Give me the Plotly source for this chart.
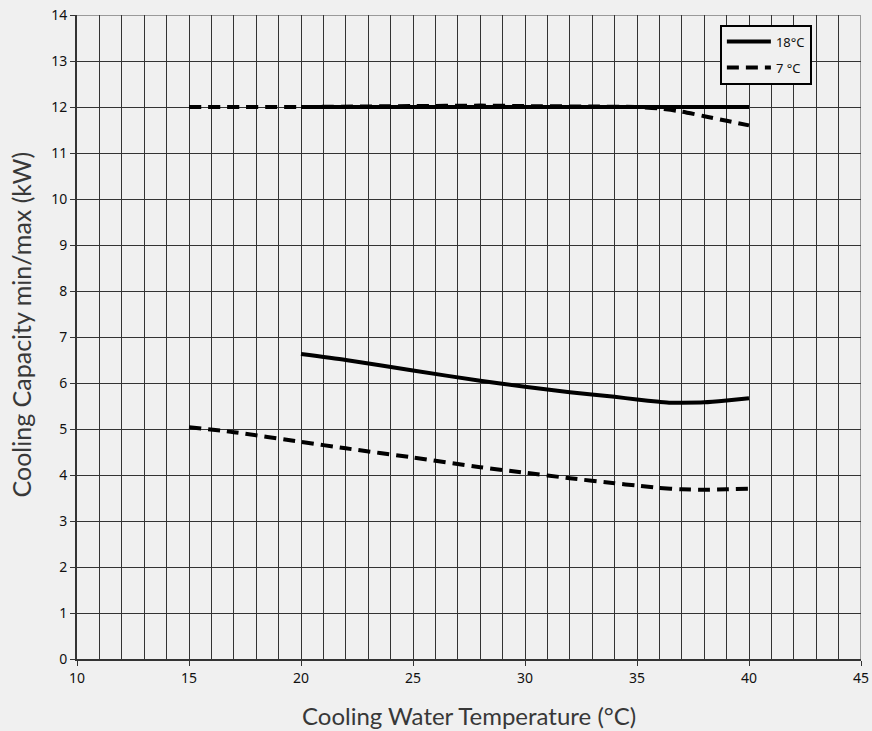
import plotly.graph_objects as go

# Data
x_18_max = [20, 25, 30, 35, 40]
y_18_max = [12.0, 12.0, 12.0, 12.0, 12.0]

x_7_max = [15, 20, 25, 28, 30, 33, 35, 36, 37, 38, 39, 40]
y_7_max = [12.0, 12.0, 12.02, 12.03, 12.02, 12.01, 12.0, 11.97, 11.9, 11.8, 11.7, 11.6]

x_18_min = [20, 22, 25, 28, 30, 32, 34, 35, 36, 36.5, 37, 38, 39, 40]
y_18_min = [6.63, 6.5, 6.27, 6.05, 5.92, 5.8, 5.7, 5.64, 5.59, 5.57, 5.57, 5.58, 5.62, 5.67]

x_7_min = [15, 17, 20, 22, 25, 28, 30, 32, 34, 35, 36, 37, 38, 39, 40]
y_7_min = [5.04, 4.93, 4.72, 4.58, 4.38, 4.17, 4.05, 3.93, 3.82, 3.77, 3.72, 3.69, 3.68, 3.69, 3.70]

x_ticks = [10, 15, 20, 25, 30, 35, 40, 45]
y_ticks = list(range(0, 15))

x_title = "Cooling Water Temperature (°C)"
y_title = "Cooling Capacity min/max (kW)"

fig = go.Figure()
line_solid = dict(color="black", width=4, shape="spline", smoothing=0.6)
line_dash = dict(color="black", width=4, dash="12px,7px", shape="spline", smoothing=0.6)

fig.add_trace(go.Scatter(x=x_18_max, y=y_18_max, mode="lines", name="18°C",
                         line=line_solid, legendgroup="18"))
fig.add_trace(go.Scatter(x=x_7_max, y=y_7_max, mode="lines", name="7 °C",
                         line=line_dash, legendgroup="7"))
fig.add_trace(go.Scatter(x=x_18_min, y=y_18_min, mode="lines", name="18°C",
                         line=line_solid, legendgroup="18", showlegend=False))
fig.add_trace(go.Scatter(x=x_7_min, y=y_7_min, mode="lines", name="7 °C",
                         line=line_dash, legendgroup="7", showlegend=False))

# Top and right gray border lines
fig.add_shape(type="line", xref="x", yref="y", x0=10, x1=45, y0=14, y1=14,
              line=dict(color="#9a9a9a", width=2), layer="below")
fig.add_shape(type="line", xref="x", yref="y", x0=45, x1=45, y0=0, y1=14,
              line=dict(color="#9a9a9a", width=2), layer="below")

fig.add_annotation(text=x_title, xref="paper", yref="paper", x=0.5, y=-0.088,
                   xanchor="center", yanchor="middle", showarrow=False,
                   font=dict(family="Lato, Inter, sans-serif", color="#383838", size=24))
fig.add_annotation(text=y_title, xref="paper", yref="paper", x=-0.071, y=0.52,
                   xanchor="center", yanchor="middle", showarrow=False, textangle=-90,
                   font=dict(family="Lato, Inter, sans-serif", color="#383838", size=25))

fig.update_layout(
    width=872, height=731,
    paper_bgcolor="#f0f0f0", plot_bgcolor="#f0f0f0",
    margin=dict(l=77, r=11, t=15, b=72, autoexpand=False),
    font=dict(family="Noto Sans, Open Sans, sans-serif", color="#111", size=14),
    showlegend=True,
    legend=dict(x=0.82, y=0.985, xanchor="left", yanchor="top",
                bgcolor="#f0f0f0", bordercolor="black", borderwidth=2,
                font=dict(size=13, color="#111"), tracegroupgap=6,
                itemwidth=44),
)

fig.update_xaxes(
    range=[10, 45], tickvals=x_ticks, ticktext=[str(v) for v in x_ticks],
    showgrid=False, zeroline=False, automargin=False,
    showline=True, linecolor="#333", linewidth=2,
    ticks="outside", ticklen=5, tickcolor="#333", tickwidth=1,
    minor=dict(dtick=1, tick0=10, showgrid=True, gridcolor="#333", gridwidth=1),
)
fig.update_yaxes(
    range=[0, 14], tickvals=y_ticks, ticktext=[str(v) for v in y_ticks],
    showgrid=True, gridcolor="#333", gridwidth=1, zeroline=False, automargin=False,
    showline=True, linecolor="#333", linewidth=2,
    ticks="outside", ticklen=5, tickcolor="#333", tickwidth=1,
)

fig.write_html(
    "out.html",
    config={"displayModeBar": False},
    post_script="document.body.style.margin='0';document.body.style.background='#f0f0f0';",
)
